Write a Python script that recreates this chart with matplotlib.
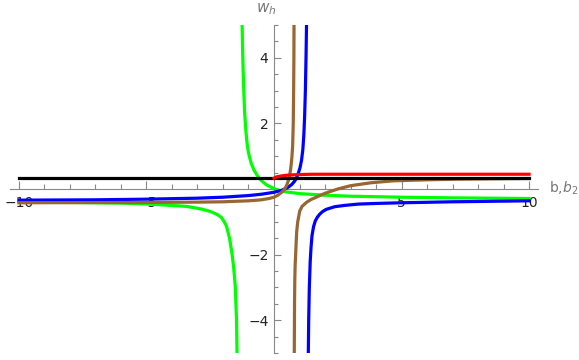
import matplotlib
matplotlib.use("Agg")
import matplotlib.pyplot as plt
from matplotlib.ticker import MultipleLocator, FixedLocator

# values
black_x = [-10, 10]
black_y = [0.35, 0.35]

red_x = [0, 0.1, 0.3, 0.5, 0.7, 1.0, 1.5, 2, 3, 5, 10]
red_y = [0.33, 0.37, 0.40, 0.42, 0.43, 0.44, 0.45, 0.45, 0.45, 0.45, 0.45]

green_l_x = [-10, -8, -6, -4.87, -3.44, -2.91, -2.6, -2.33, -2.2, -2.06, -1.95, -1.87, -1.80, -1.74,
             -1.65, -1.58, -1.52, -1.47, -1.45]
green_l_y = [-0.40, -0.41, -0.43, -0.46, -0.53, -0.60, -0.66, -0.74, -0.79, -0.87, -1.0, -1.12, -1.32, -1.52,
             -1.95, -2.4, -2.95, -3.97, -5.0]
green_r_x = [-1.25, -1.23, -1.21, -1.18, -1.15, -1.10, -1.05, -1.00, -0.90, -0.80, -0.65, -0.50, -0.30,
             0.0, 0.4, 1.0, 2.0, 3.0, 5.0, 7.0, 10.0]
green_r_y = [5.0, 4.2, 3.6, 2.9, 2.3, 1.75, 1.35, 1.10, 0.80, 0.60, 0.40, 0.26, 0.13,
             0.01, -0.08, -0.14, -0.19, -0.22, -0.25, -0.27, -0.29]

blue_l_x = [-10, -7, -5, -3, -2, -1, -0.5, 0, 0.3, 0.55, 0.7, 0.8, 0.87, 0.95, 1.02, 1.08, 1.13,
            1.17, 1.20, 1.23, 1.255, 1.275]
blue_l_y = [-0.34, -0.33, -0.31, -0.28, -0.25, -0.20, -0.16, -0.10, -0.04, 0.05, 0.14, 0.23, 0.32, 0.47,
            0.65, 0.88, 1.2, 1.65, 2.2, 3.0, 4.0, 5.0]
blue_r_x = [1.345, 1.36, 1.385, 1.42, 1.45, 1.49, 1.55, 1.62, 1.70, 1.79, 1.9, 2.05, 2.38, 2.77, 3.3,
            4.0, 5, 7, 10]
blue_r_y = [-5.0, -4.0, -3.0, -2.2, -1.8, -1.42, -1.15, -0.97, -0.86, -0.77, -0.69, -0.62, -0.54, -0.50,
            -0.46, -0.44, -0.42, -0.39, -0.36]

brown_l_x = [-10, -5, -3, -2, -1, -0.5, -0.2, 0, 0.15, 0.3, 0.4, 0.49, 0.56, 0.62, 0.66, 0.70, 0.73,
             0.755, 0.77, 0.78, 0.785]
brown_l_y = [-0.42, -0.41, -0.40, -0.39, -0.36, -0.33, -0.29, -0.25, -0.19, -0.10, -0.02, 0.10, 0.25,
             0.45, 0.65, 0.95, 1.3, 2.0, 3.0, 4.0, 5.0]
brown_r_x = [0.795, 0.805, 0.815, 0.83, 0.85, 0.87, 0.89, 0.93, 1.01, 1.1, 1.27, 1.45, 1.6, 1.8, 2.0,
             2.5, 3.0, 3.8, 4.7, 6, 7.15, 8.5, 10]
brown_r_y = [-5.0, -3.5, -2.8, -2.3, -1.99, -1.6, -1.3, -1.0, -0.67, -0.53, -0.41, -0.32, -0.27, -0.20,
             -0.13, 0.0, 0.10, 0.19, 0.25, 0.28, 0.30, 0.31, 0.32]

x_ticks = [-10, -5, 5, 10]
x_ticklabels = ["\u221210", "\u22125", "5", "10"]
y_ticks = [-4, -2, 2, 4]
y_ticklabels = ["\u22124", "\u22122", "2", "4"]

green = "#00ff00"
blue = "#0000ff"
red = "#ff0000"
brown = "#996633"
axis_gray = "#888888"

fig = plt.figure(figsize=(5.79, 3.6), dpi=100)
ax = fig.add_axes([10 / 579, 7 / 360, 528 / 579, 328 / 360])

lw = 2.3
ax.plot(green_l_x, green_l_y, color=green, lw=lw, zorder=3)
ax.plot(green_r_x, green_r_y, color=green, lw=lw, zorder=3)
ax.plot(blue_l_x, blue_l_y, color=blue, lw=lw, zorder=3)
ax.plot(blue_r_x, blue_r_y, color=blue, lw=lw, zorder=3)
ax.plot(brown_l_x, brown_l_y, color=brown, lw=lw, zorder=3)
ax.plot(brown_r_x, brown_r_y, color=brown, lw=lw, zorder=3)
ax.plot(black_x, black_y, color="black", lw=lw, zorder=3)
ax.plot(red_x, red_y, color=red, lw=lw, zorder=3)

ax.set_xlim(-10.35, 10.35)
ax.set_ylim(-5, 5)

# mathematica style axes through the origin
ax.spines["left"].set_position("zero")
ax.spines["bottom"].set_position("zero")
ax.spines["right"].set_visible(False)
ax.spines["top"].set_visible(False)
for s in ("left", "bottom"):
    ax.spines[s].set_color(axis_gray)
    ax.spines[s].set_linewidth(0.8)

ax.xaxis.set_major_locator(FixedLocator(x_ticks))
ax.set_xticklabels(x_ticklabels)
ax.xaxis.set_minor_locator(MultipleLocator(1))
ax.yaxis.set_major_locator(FixedLocator(y_ticks))
ax.set_yticklabels(y_ticklabels)
ax.yaxis.set_minor_locator(MultipleLocator(0.5))

ax.tick_params(axis="both", which="both", direction="in", color=axis_gray, labelsize=10, labelcolor="#222222")
ax.tick_params(axis="x", which="major", length=6, width=0.8, pad=5)
ax.tick_params(axis="x", which="minor", length=3.5, width=0.8)
ax.tick_params(axis="y", which="major", length=5, width=0.8, pad=4)
ax.tick_params(axis="y", which="minor", length=3, width=0.8)

fig.text(549 / 579, 1 - 188 / 360, r"b,$b_2$", color="#777777", fontsize=10, va="center", ha="left")
fig.text(266 / 579, 1 - 9 / 360, r"$w_h$", color="#777777", fontsize=11, va="center", ha="center")

fig.savefig("out.png", dpi=100)
